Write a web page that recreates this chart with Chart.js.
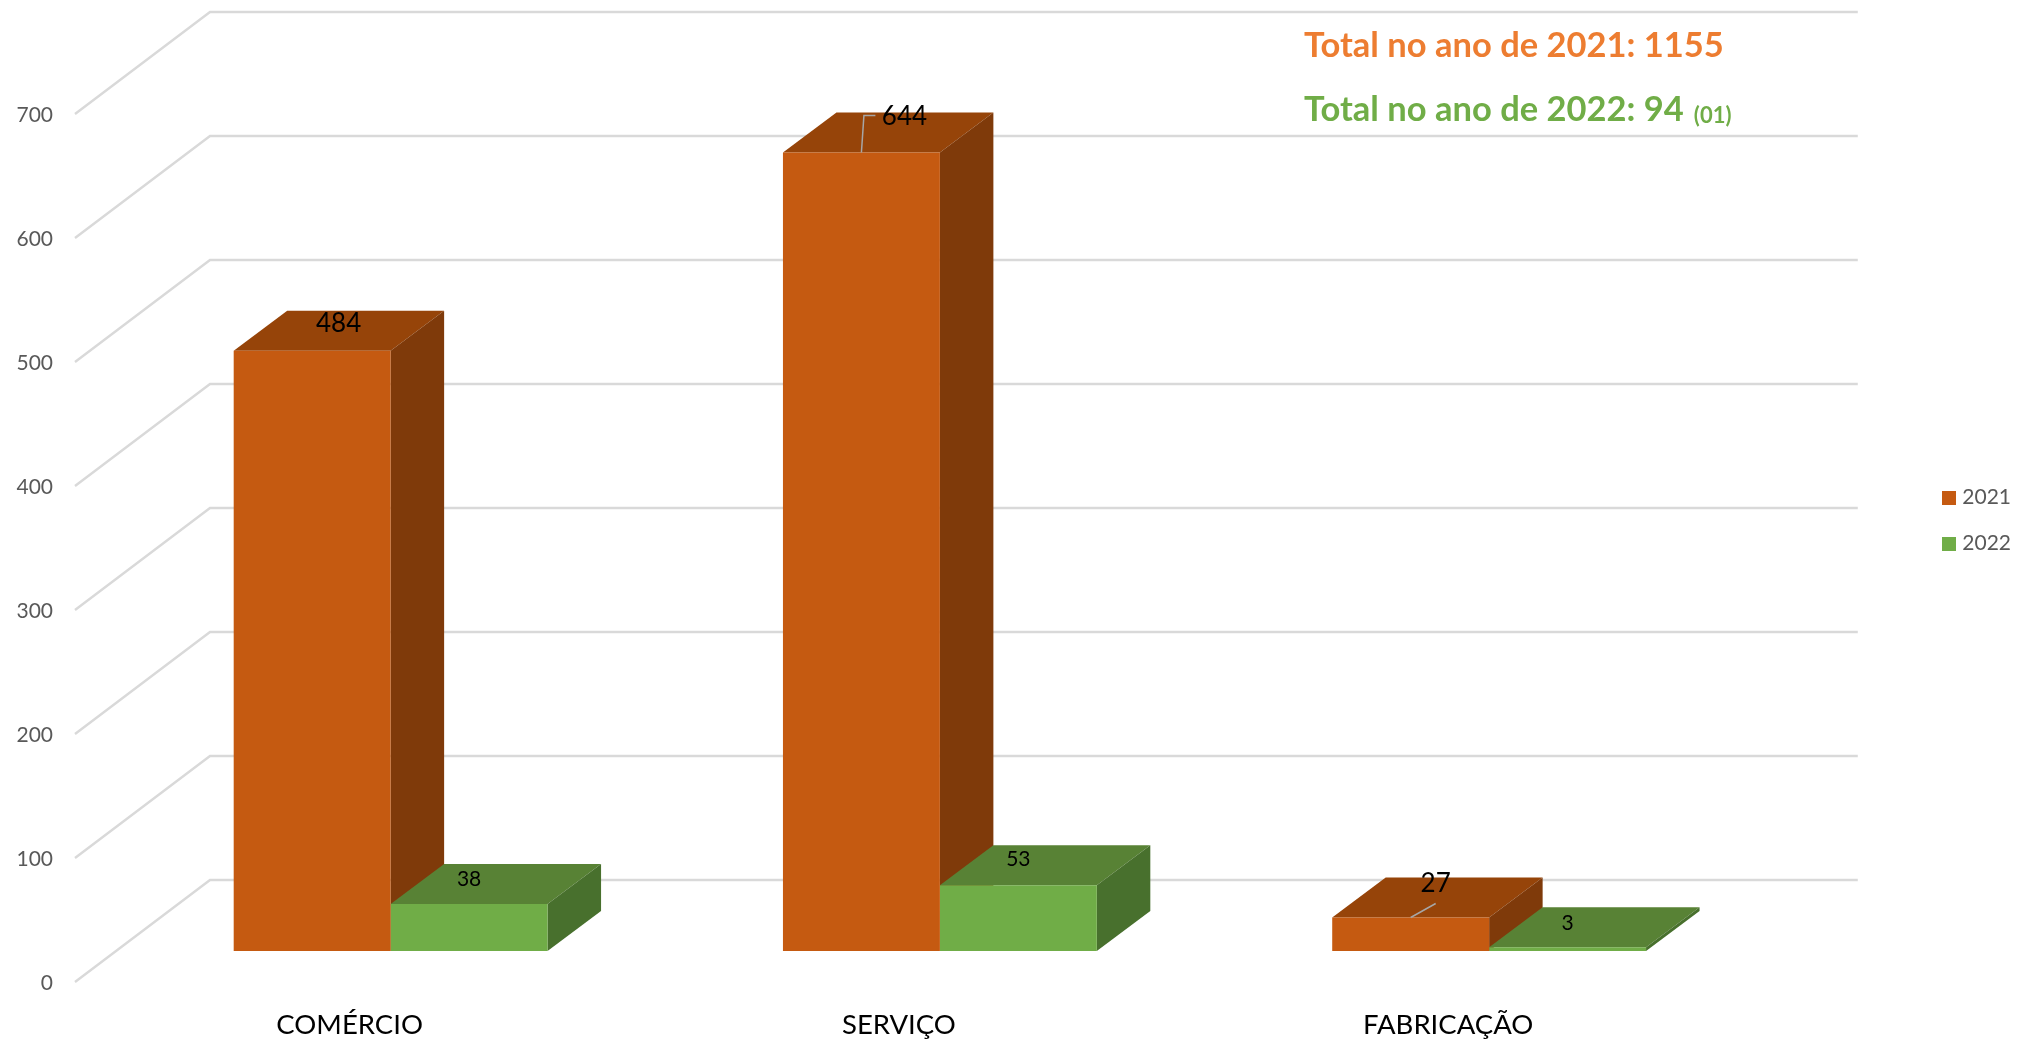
<!DOCTYPE html>
<html lang="pt">
<head>
<meta charset="utf-8">
<style>html,body{margin:0;padding:0;background:#fff}canvas{display:block}</style>
<script src="https://cdn.jsdelivr.net/npm/chart.js@4/dist/chart.umd.min.js"></script>
</head>
<body>
<canvas id="c" width="2035" height="1039"></canvas>
<script>
const categories = ['COMÉRCIO', 'SERVIÇO', 'FABRICAÇÃO'];
const values2021 = [484, 644, 27];
const values2022 = [38, 53, 3];
const seriesNames = ['2021', '2022'];
const yTicks = { min: 0, max: 700, step: 100 };
const totalLines = [
  { text: 'Total no ano de 2021: 1155', note: '', color: '#ED7D31' },
  { text: 'Total no ano de 2022: 94', note: '(01)', color: '#70AD47' }
];

// Perspective of the pseudo-3D box
const WALL = { dx: 135, dy: -102 };
const DEPTH = { dx: 53.5, dy: -40 };
const faces = [
  { front: '#C55A11', top: '#964409', side: '#7F3A0A' },
  { front: '#70AD47', top: '#588235', side: '#48702D' }
];
// Data-label placement relative to each bar's front top centre
const labelOffsets = [
  [[26.5, -27], [43, -36], [25, -34]],
  [[0, -25], [0, -26], [0, -24]]
];
const labelFonts = [26, 21];

function swatch(color) {
  const s = document.createElement('canvas');
  s.width = 14;
  s.height = 14;
  const g = s.getContext('2d');
  g.fillStyle = color;
  g.fillRect(0, 0, 14, 14);
  return s;
}

const box3d = {
  id: 'box3d',
  beforeDatasetsDraw(chart) {
    const { ctx, chartArea: a, scales: { y } } = chart;
    ctx.save();
    ctx.strokeStyle = '#D9D9D9';
    ctx.lineWidth = 2.4;
    y.ticks.forEach(t => {
      const py = y.getPixelForValue(t.value);
      ctx.beginPath();
      ctx.moveTo(a.left, py);
      ctx.lineTo(a.left + WALL.dx, py + WALL.dy);
      ctx.lineTo(a.right + WALL.dx, py + WALL.dy);
      ctx.stroke();
    });
    chart.data.datasets.forEach((ds, di) => {
      chart.getDatasetMeta(di).data.forEach(bar => {
        const l = bar.x - bar.width / 2, r = bar.x + bar.width / 2;
        ctx.fillStyle = faces[di].top;
        ctx.beginPath();
        ctx.moveTo(l, bar.y);
        ctx.lineTo(l + DEPTH.dx, bar.y + DEPTH.dy);
        ctx.lineTo(r + DEPTH.dx, bar.y + DEPTH.dy);
        ctx.lineTo(r, bar.y);
        ctx.closePath();
        ctx.fill();
        ctx.fillStyle = faces[di].side;
        ctx.beginPath();
        ctx.moveTo(r, bar.y);
        ctx.lineTo(r + DEPTH.dx, bar.y + DEPTH.dy);
        ctx.lineTo(r + DEPTH.dx, bar.base + DEPTH.dy);
        ctx.lineTo(r, bar.base);
        ctx.closePath();
        ctx.fill();
      });
    });
    ctx.restore();
  },
  afterDatasetsDraw(chart) {
    const { ctx } = chart;
    ctx.save();
    // Leader lines of the labels that were moved away from their bars
    const m0 = chart.getDatasetMeta(0).data;
    ctx.strokeStyle = '#A6A6A6';
    ctx.lineWidth = 1.5;
    ctx.beginPath();
    ctx.moveTo(m0[1].x, m0[1].y);
    ctx.lineTo(m0[1].x + 2.5, m0[1].y - 37);
    ctx.lineTo(m0[1].x + 14, m0[1].y - 37);
    ctx.moveTo(m0[2].x, m0[2].y);
    ctx.lineTo(m0[2].x + 25, m0[2].y - 14);
    ctx.stroke();
    // Data labels
    ctx.textAlign = 'center';
    ctx.textBaseline = 'middle';
    ctx.fillStyle = '#000';
    chart.data.datasets.forEach((ds, di) => {
      ctx.font = labelFonts[di] + 'px Lato';
      chart.getDatasetMeta(di).data.forEach((bar, i) => {
        const [ox, oy] = labelOffsets[di][i];
        ctx.fillText(String(ds.data[i].y), bar.x + ox, bar.y + oy);
      });
    });
    // Totals
    ctx.textAlign = 'left';
    ctx.textBaseline = 'alphabetic';
    totalLines.forEach((t, i) => {
      const py = 57 + i * 64;
      ctx.fillStyle = t.color;
      ctx.font = 'bold 34.5px Lato';
      ctx.fillText(t.text, 1304, py);
      if (t.note) {
        const w = ctx.measureText(t.text).width;
        ctx.font = 'bold 22px Lato';
        ctx.fillText(t.note, 1304 + w + 10, py + 2);
      }
    });
    ctx.restore();
  }
};

new Chart(document.getElementById('c'), {
  type: 'bar',
  data: {
    labels: categories,
    datasets: [values2021, values2022].map((vals, di) => ({
      label: seriesNames[di],
      data: vals.map((v, i) => ({ x: i, y: v })),
      backgroundColor: faces[di].front,
      xAxisID: 'x2',
      yAxisID: 'y2',
      barPercentage: 1,
      categoryPercentage: 100 / 175
    }))
  },
  options: {
    responsive: false,
    animation: false,
    devicePixelRatio: 1,
    layout: { padding: { right: 14, top: 2 } },
    scales: {
      x: {
        type: 'category',
        offset: true,
        grid: { display: false, drawTicks: false },
        border: { display: false },
        ticks: { color: '#000', font: { family: 'Lato', size: 27.5 }, padding: 27, maxRotation: 0 },
        afterFit(s) { s.height = 57; }
      },
      y: {
        type: 'linear',
        min: yTicks.min,
        max: yTicks.max,
        grid: { display: false, drawTicks: false },
        border: { display: false },
        ticks: { stepSize: yTicks.step, color: '#595959', font: { family: 'Lato', size: 21 }, padding: 22, labelOffset: 1 },
        afterFit(s) { s.width = 75; }
      },
      // Bars stand on a plane 41px right / 31px up of the front edge of the floor
      x2: {
        type: 'linear',
        position: 'top',
        offset: false,
        min: -0.5 - 41 / 549.33,
        max: 2.5 - 41 / 549.33,
        grid: { display: false, offset: false, drawTicks: false },
        border: { display: false },
        ticks: { display: false, stepSize: 1 },
        afterBuildTicks(s) { s.ticks = s.ticks.filter(t => Number.isInteger(t.value)); },
        afterFit(s) { s.height = 112; }
      },
      y2: {
        type: 'linear',
        position: 'right',
        min: -25,
        max: 675,
        grid: { display: false, drawTicks: false },
        border: { display: false },
        ticks: { display: false },
        afterFit(s) { s.width = 199; }
      }
    },
    plugins: {
      tooltip: { enabled: false },
      legend: {
        position: 'right',
        labels: {
          usePointStyle: true,
          pointStyleWidth: 5,
          boxHeight: 14,
          padding: 25,
          color: '#595959',
          font: { family: 'Lato', size: 21 },
          generateLabels(chart) {
            const items = Chart.defaults.plugins.legend.labels.generateLabels(chart);
            items.forEach((it, i) => { it.pointStyle = swatch(faces[i].front); it.lineWidth = 0; });
            return items;
          }
        }
      }
    }
  },
  plugins: [box3d]
});
</script>
</body>
</html>
